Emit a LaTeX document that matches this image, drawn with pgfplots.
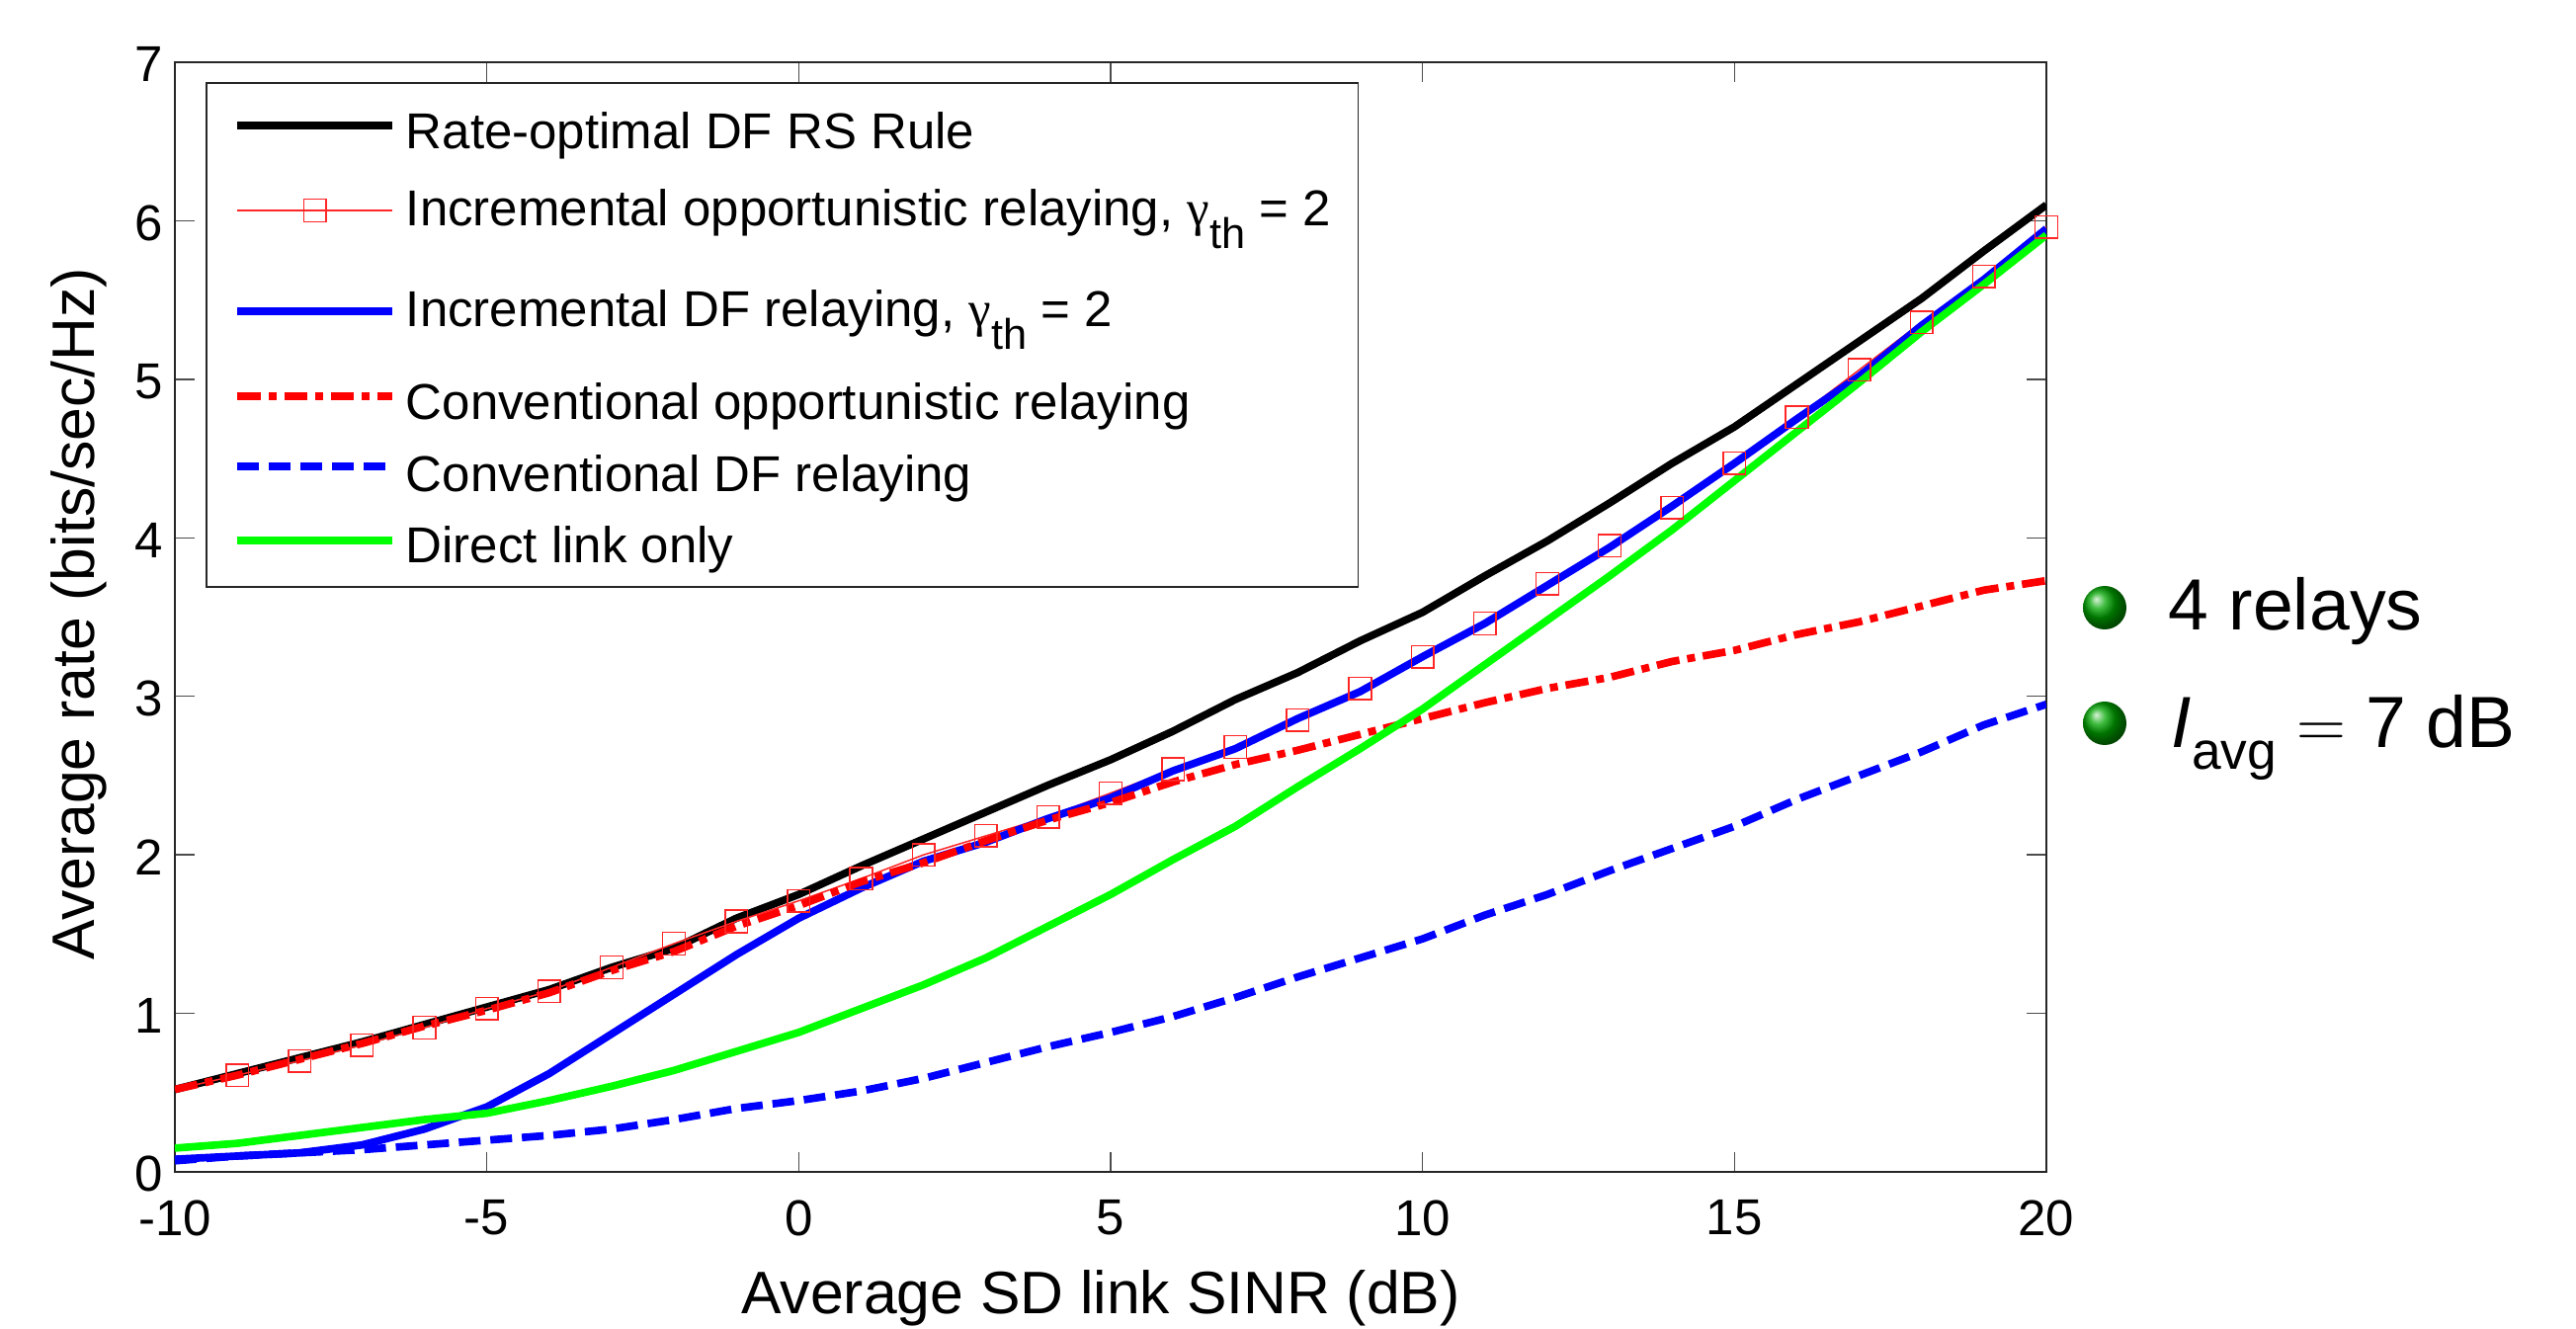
\documentclass[border=0pt]{standalone}
\usepackage{fontspec}
\setmainfont{Liberation Sans}
\usepackage{pgfplots}
\pgfplotsset{compat=1.18}
\usepackage{pgfplotstable}
\newfontfamily\gammafont{Liberation Serif}
\definecolor{lgreen}{RGB}{0,255,0}
\definecolor{lred}{RGB}{255,0,0}
\definecolor{lblue}{RGB}{0,0,255}
\newcommand{\gth}{{\gammafont γ}\raisebox{-0.45em}{\fontsize{13}{13}\selectfont th}}
% half-height of a legend row (#1), centred on the sample line #2 above the baseline
\newcommand{\rowstrut}[2]{\rule[\dimexpr#2pt-#1pt\relax]{0pt}{\dimexpr2\dimexpr#1pt\relax\relax}}
\pgfplotstableread{
x black marks blues reddash bluedash green
-10 0.52 0.52 0.08 0.52 0.07 0.15
-9 0.62 0.61 0.10 0.61 0.10 0.18
-8 0.72 0.70 0.12 0.71 0.12 0.23
-7 0.82 0.80 0.17 0.81 0.14 0.28
-6 0.93 0.91 0.27 0.92 0.17 0.33
-5 1.04 1.03 0.41 1.02 0.20 0.37
-4 1.15 1.14 0.62 1.13 0.23 0.45
-3 1.29 1.29 0.87 1.27 0.27 0.54
-2 1.41 1.44 1.12 1.39 0.33 0.64
-1 1.60 1.58 1.37 1.55 0.40 0.76
0 1.75 1.71 1.60 1.68 0.45 0.88
1 1.93 1.85 1.79 1.83 0.51 1.03
2 2.10 2.00 1.96 1.95 0.59 1.18
3 2.27 2.12 2.08 2.09 0.69 1.35
4 2.44 2.24 2.23 2.22 0.79 1.55
5 2.60 2.39 2.36 2.33 0.88 1.75
6 2.78 2.54 2.53 2.46 0.98 1.97
7 2.98 2.68 2.67 2.57 1.10 2.18
8 3.15 2.85 2.86 2.66 1.23 2.43
9 3.35 3.05 3.03 2.76 1.35 2.67
10 3.53 3.25 3.25 2.86 1.47 2.92
11 3.76 3.46 3.46 2.96 1.62 3.20
12 3.98 3.71 3.70 3.05 1.75 3.48
13 4.22 3.95 3.94 3.12 1.90 3.76
14 4.47 4.19 4.20 3.22 2.04 4.05
15 4.70 4.47 4.47 3.29 2.18 4.36
16 4.97 4.76 4.75 3.39 2.35 4.67
17 5.24 5.06 5.02 3.47 2.50 4.98
18 5.51 5.36 5.34 3.57 2.65 5.30
19 5.81 5.65 5.63 3.67 2.82 5.60
20 6.10 5.96 5.95 3.73 2.95 5.91
}\ratetable
\begin{document}
\begin{tikzpicture}[x=0.3pt,y=0.3pt]
\path[use as bounding box] (-177,-158) rectangle (2430,1186);
\begin{axis}[
  at={(0,0)}, anchor=south west,
  scale only axis, width=568.2pt, height=336.9pt,
  xmin=-10, xmax=20, ymin=0, ymax=7,
  xtick={-10,-5,0,5,10,15,20},
  xticklabels={-10,-5,0,5,10,15,20},
  ytick={0,1,2,3,4,5,6,7},
  yticklabels={0,1,2,3,4,5,6,7},
  tick align=inside, major tick length=6pt,
  tick style={draw=black!70, line width=0.45pt},
  axis line style={line width=0.6pt, draw=black!85},
  tick label style={font=\fontsize{15.3}{15.3}\selectfont},
  xticklabel style={yshift=-5pt},
  yticklabel style={yshift=-0.7pt},
  label style={font=\fontsize{18.2}{18.2}\selectfont},
  xlabel={Average SD link SINR (dB)},
  ylabel={Average rate (bits/sec/Hz)},
  xlabel style={at={(axis description cs:0.4947,-0.128)}, anchor=base},
  ylabel style={at={(axis description cs:-0.0428,0.503)}, anchor=base, rotate=0},
  legend cell align=left,
  legend image code/.code={
    \draw[#1, mark indices={2}] plot coordinates {(0pt,0pt) (23.5pt,0pt) (47pt,0pt)};
  },
  legend style={
    at={(rel axis cs:0.01637,0.982)}, anchor=north west,
    font=\fontsize{15.3}{15.3}\selectfont,
    draw=black!85, line width=0.5pt,
    inner xsep=8.3pt, inner ysep=2.4pt, row sep=0pt,
    nodes={inner sep=0pt, text depth=},
    /tikz/column 1/.style={column sep=3pt},
  },
]
\addplot[black, line width=2.3pt] table[x=x,y=black] {\ratetable};
\addlegendentry{\rowstrut{10.5}{6.9}Rate-optimal DF RS Rule}
\addplot[lred!85, line width=0.45pt, mark=square, mark size=3.4pt, mark indices={2,3,...,31},
  mark options={line width=0.45pt, solid}] table[x=x,y=marks] {\ratetable};
\addlegendentry{\rowstrut{15.3}{4.5}Incremental opportunistic relaying, \gth\ = 2}
\addplot[lblue, line width=2.3pt] table[x=x,y=blues] {\ratetable};
\addlegendentry{\rowstrut{15.3}{4.5}Incremental DF relaying, \gth\ = 2}
\addplot[lred, line width=2.3pt, dash pattern=on 7pt off 2.4pt on 2.4pt off 2.4pt] table[x=x,y=reddash] {\ratetable};
\addlegendentry{\rowstrut{10.5}{6.9}Conventional opportunistic relaying}
\addplot[lblue, line width=2.3pt, dash pattern=on 6.6pt off 3pt] table[x=x,y=bluedash] {\ratetable};
\addlegendentry{\rowstrut{10.8}{7.5}Conventional DF relaying}
\addplot[lgreen, line width=2.3pt] table[x=x,y=green] {\ratetable};
\addlegendentry{\rowstrut{11.7}{6.6}Direct link only}
\end{axis}
\shade[ball color=green!65!black] (1953,571) circle (22);
\shade[ball color=green!65!black] (1953,454) circle (22);
\node[anchor=base west, inner sep=0pt, font=\fontsize{22}{22}\selectfont] at (2017,548) {4 relays};
\node[anchor=base west, inner sep=0pt, font=\fontsize{22}{22}\selectfont] at (2020,429) {\textit{I}\raisebox{-0.3em}{\fontsize{16}{16}\selectfont avg} $=$ 7 dB};
\end{tikzpicture}
\end{document}
